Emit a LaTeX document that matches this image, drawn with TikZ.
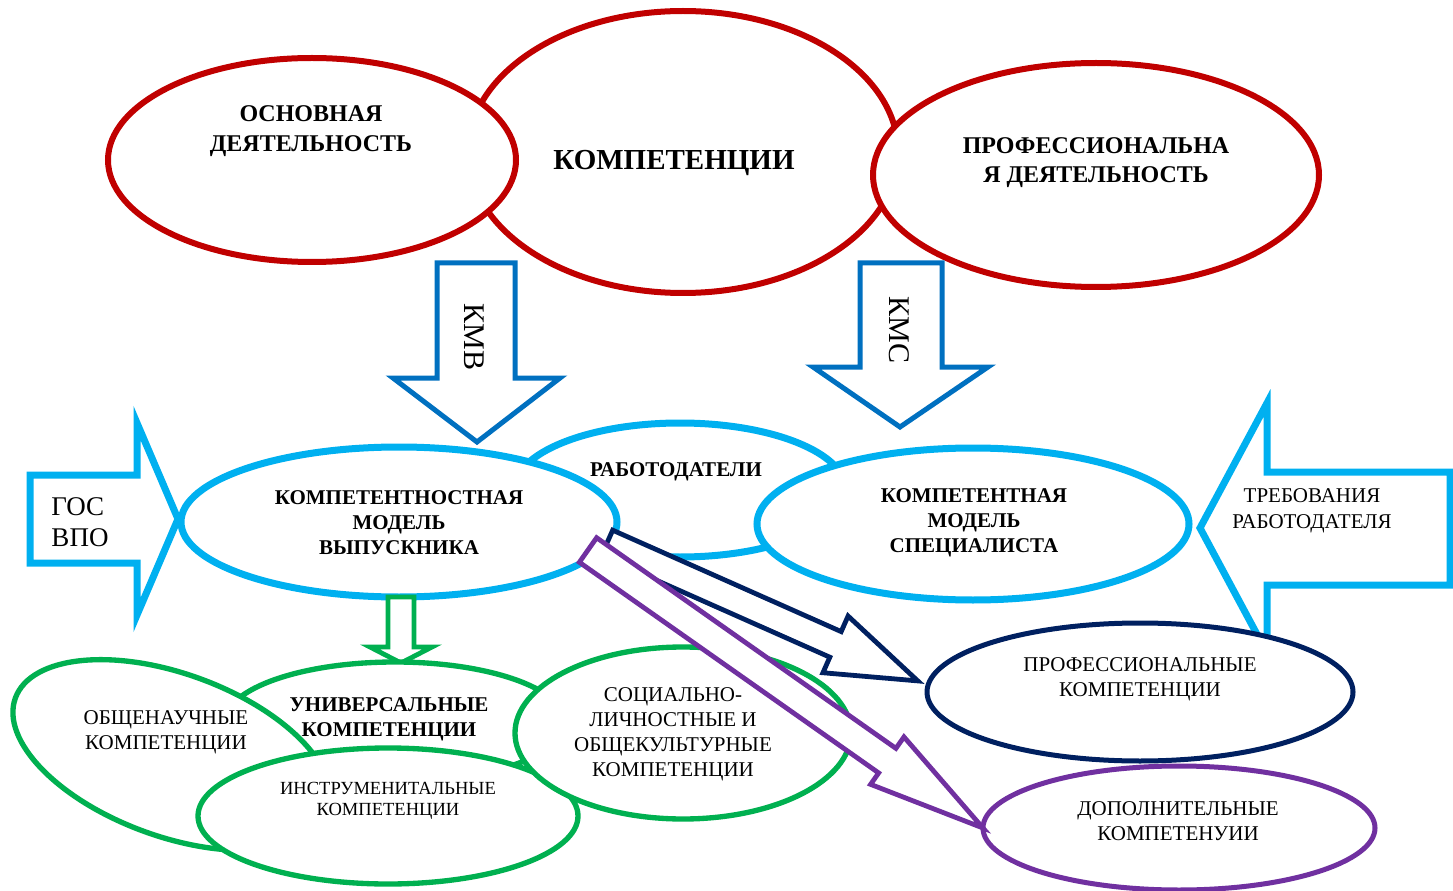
\documentclass[tikz,border=0pt]{standalone}
\usepackage{fontspec}
\setmainfont{Liberation Serif}
\usetikzlibrary{shapes.geometric}
\definecolor{cred}{RGB}{192,0,0}
\definecolor{cblue}{RGB}{0,112,192}
\definecolor{clblue}{RGB}{0,176,240}
\definecolor{cgreen}{RGB}{0,176,80}
\definecolor{cnavy}{RGB}{0,32,96}
\definecolor{cpurple}{RGB}{112,48,160}
\begin{document}
\begin{tikzpicture}[x=0.75pt,y=-0.75pt,
  ell/.style={ellipse, fill=white, inner sep=0pt, outer sep=0pt},
  redell/.style={ell, draw=cred, line width=4.5pt},
  lbell/.style={ell, draw=clblue, line width=5.25pt},
  grell/.style={ell, draw=cgreen, line width=4pt},
  nvell/.style={ell, draw=cnavy, line width=3.75pt},
  prell/.style={ell, draw=cpurple, line width=3.75pt},
  bluearrow/.style={draw=cblue, fill=white, line width=3.75pt, line join=miter},
  lbarrow/.style={draw=clblue, fill=white, line width=5.25pt, line join=miter},
  grarrow/.style={draw=cgreen, fill=white, line width=3.6pt, line join=miter},
  nvarrow/.style={draw=cnavy, fill=white, line width=3.6pt, line join=miter},
  prarrow/.style={draw=cpurple, fill=white, line width=3.6pt, line join=miter},
  txt/.style={align=center, inner sep=0pt, font=\fontsize{15.75}{18.75}\selectfont},
  btxt/.style={align=center, inner sep=0pt, font=\bfseries\fontsize{15.75}{18.75}\selectfont},
]
\useasboundingbox (0,0) rectangle (1453,891);

% --- top red ellipses
\node[redell, minimum width=322.5pt, minimum height=211.5pt] (komp) at (683,152) {};
\node[redell, minimum width=306pt, minimum height=153pt] (osn) at (312,160) {};
\node[redell, minimum width=334.5pt, minimum height=168pt] (profd) at (1096,175) {};
\node[btxt, font=\bfseries\fontsize{18}{22.5}\selectfont] (osnT) at (311,131) {ОСНОВНАЯ\\ДЕЯТЕЛЬНОСТЬ};
\node[btxt, font=\bfseries\fontsize{21.75}{26}\selectfont] (kompT) at (674,163) {КОМПЕТЕНЦИИ};
\node[btxt, font=\bfseries\fontsize{18}{21.75}\selectfont] (profdT) at (1096,163) {ПРОФЕССИОНАЛЬНА\\Я ДЕЯТЕЛЬНОСТЬ};

% --- KMV / KMS arrows
\coordinate (kmvTip) at (477,442);
\coordinate (kmsTip) at (900,427);
\draw[bluearrow] (437,263) -- (515,263) -- (515,378) -- (560,378) -- (kmvTip) -- (393,378) -- (437,378) -- cycle;
\draw[bluearrow] (860,263) -- (942,263) -- (942,367) -- (988,367) -- (kmsTip) -- (813,367) -- (860,367) -- cycle;
\node[rotate=-90, inner sep=0pt, font=\fontsize{22.5}{27}\selectfont] (kmvT) at (474,337) {КМВ};
\node[rotate=-90, inner sep=0pt, font=\fontsize{22.5}{27}\selectfont] (kmsT) at (899,330) {КМС};

% --- blue ellipses
\node[lbell, minimum width=249pt, minimum height=100.5pt] (rab) at (680,490) {};
\node[lbell, minimum width=327pt, minimum height=112.5pt] (kmv) at (399,522) {};
\node[lbell, minimum width=324pt, minimum height=114pt] (kms) at (973,524) {};
\node[btxt] (rabT) at (676,472) {РАБОТОДАТЕЛИ};
\node[btxt] (kmvTx) at (399,523) {КОМПЕТЕНТНОСТНАЯ\\МОДЕЛЬ\\ВЫПУСКНИКА};
\node[btxt] (kmsTx) at (974,523) {КОМПЕТЕНТНАЯ\\МОДЕЛЬ\\СПЕЦИАЛИСТА};

% --- side arrows
\draw[lbarrow] (30,475) -- (137,475) -- (137,423) -- (178,519) -- (137,615) -- (137,563) -- (30,563) -- cycle;
\node[align=left, inner sep=0pt, font=\fontsize{20.25}{23.25}\selectfont] (gosT) at (80,522) {ГОС\\ВПО};
\draw[lbarrow] (1450,472) -- (1267,472) -- (1267,403) -- (1200,528) -- (1267,653) -- (1267,585) -- (1450,585) -- cycle;
\node[txt, font=\fontsize{15.75}{19.5}\selectfont] (trebT) at (1312,511) {ТРЕБОВАНИЯ\\РАБОТОДАТЕЛЯ};

% --- green arrow
\draw[grarrow] (388,597) -- (414,597) -- (414,647) -- (432,647) -- (401,663) -- (370,647) -- (388,647) -- cycle;

% --- green ellipses
\node[grell, minimum width=255pt, minimum height=90pt] (univ) at (395,722) {};
\node[grell, rotate=-20, minimum width=250pt, minimum height=122pt] (obsh) at (172,755) {};
\node[grell, minimum width=285pt, minimum height=102pt] (instr) at (388,816) {};
\node[grell, minimum width=252pt, minimum height=129pt] (soc) at (683,733) {};
\node[btxt] (univT) at (389,719) {УНИВЕРСАЛЬНЫЕ\\КОМПЕТЕНЦИИ};
\node[txt] (obshT) at (166,732) {ОБЩЕНАУЧНЫЕ\\КОМПЕТЕНЦИИ};
\node[txt, font=\fontsize{13.9}{15.75}\selectfont] (instrT) at (388,801) {ИНСТРУМЕНИТАЛЬНЫЕ\\КОМПЕТЕНЦИИ};
\node[txt] (socT) at (673,734) {СОЦИАЛЬНО-\\ЛИЧНОСТНЫЕ И\\ОБЩЕКУЛЬТУРНЫЕ\\КОМПЕТЕНЦИИ};

% --- navy and purple ellipses
\node[prell, minimum width=294pt, minimum height=93pt] (dop) at (1179,828) {};
\node[nvell, minimum width=319.5pt, minimum height=103.5pt] (profk) at (1140,692) {};
\node[txt] (profkT) at (1140,679) {ПРОФЕССИОНАЛЬНЫЕ\\КОМПЕТЕНЦИИ};
\node[txt] (dopT) at (1178,821) {ДОПОЛНИТЕЛЬНЫЕ\\КОМПЕТЕНУИИ};

% --- navy and purple block arrows
\coordinate (nvS) at (607,543);
\coordinate (prS) at (588,550);
\begin{scope}[shift={(nvS)}, rotate=-23.93]
\draw[nvarrow] (0,-14) -- (250,-14) -- (250,-31) -- (340,0) -- (250,31) -- (250,14) -- (0,14) -- cycle;
\end{scope}
\begin{scope}[shift={(prS)}, rotate=-35.14]
\draw[prarrow] (0,-15) -- (366,-15) -- (366,-29) -- (483,0) -- (366,29) -- (366,15) -- (0,15) -- cycle;
\end{scope}
\end{tikzpicture}
\end{document}
